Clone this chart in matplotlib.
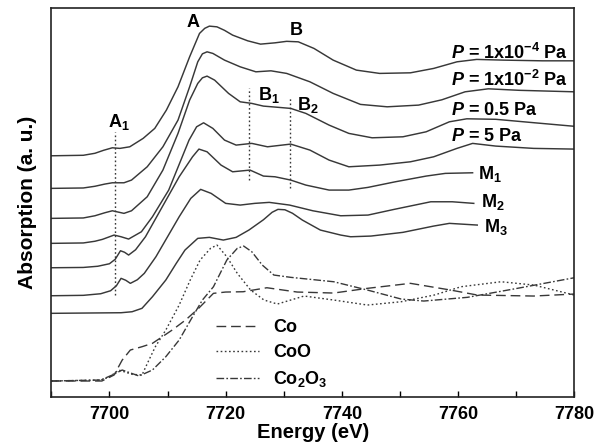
import numpy as np
import matplotlib
matplotlib.use("Agg")
import matplotlib.pyplot as plt
from matplotlib.ticker import MultipleLocator

plt.rcParams['font.family'] = ['Liberation Sans', 'DejaVu Sans']
plt.rcParams['font.weight'] = 'bold'
plt.rcParams['mathtext.fontset'] = 'custom'
plt.rcParams['mathtext.rm'] = 'Liberation Sans:bold'
plt.rcParams['mathtext.bf'] = 'Liberation Sans:bold'
plt.rcParams['mathtext.it'] = 'Liberation Sans:bold:italic'
plt.rcParams['mathtext.default'] = 'bf'

# stacked spectra (offset absorption, arbitrary units)
e_p4 = [7690, 7695.5, 7697.5, 7699, 7700.5, 7701.8, 7703.5, 7705.8, 7707.8, 7709.8, 7711.8, 7713.8,
        7715.5, 7716.4, 7717.2, 7718.5, 7719.8, 7721.2, 7723.8, 7726, 7728.5, 7730.5, 7732.5, 7735.2,
        7738.5, 7742.5, 7746.5, 7751.8, 7755.8, 7759.8, 7763.2, 7767.8, 7774.5, 7780]
a_p4 = [241, 241.5, 243.5, 246.5, 249, 248.4, 250, 258.4, 268.4, 286.7, 310, 340,
        363.4, 368.5, 370.7, 370, 366.5, 361.7, 356, 352.7, 354, 355.5, 355, 348.4,
        336.7, 326.7, 323.4, 324, 328.4, 335, 337.4, 336.7, 336, 336]

e_p2 = [7690, 7695.5, 7697.5, 7699.2, 7700.5, 7702.5, 7703.8, 7706.5, 7709.2, 7711.8, 7713.8,
        7715.2, 7716.0, 7716.8, 7717.8, 7719.8, 7722.5, 7725.2, 7727.8, 7730.5, 7734.5, 7738.5,
        7743.2, 7747.8, 7753.2, 7757.2, 7761.2, 7765.2, 7770.5, 7780]
a_p2 = [208.4, 208.8, 210.5, 212.7, 214, 214, 216.7, 230, 250, 276.7, 310,
        335, 343, 345, 343.4, 336.7, 330, 325, 326, 323.4, 315, 303.4,
        292.4, 290, 291.7, 297, 305, 308, 306.5, 305]

e_p05 = [7690, 7695.5, 7697.5, 7699.2, 7700.5, 7702.5, 7703.8, 7706.5, 7709.2, 7711.8, 7713.8,
         7715.2, 7716.0, 7716.8, 7718.1, 7720.5, 7722.5, 7724.5, 7726.5, 7729.2, 7731.2, 7733.8,
         7737.8, 7741.2, 7745.2, 7750.5, 7754.5, 7758.5, 7761.5, 7766.5, 7773.2, 7780]
a_p05 = [178.4, 178.8, 181, 184, 186, 183.4, 186, 200, 226.7, 263.4, 296.7,
         313.4, 319, 320.7, 316.7, 303.4, 295, 293.4, 290.7, 289.4, 288.4, 283.4,
         271.7, 263.4, 259, 260, 265, 275, 278, 277.5, 274, 270.5]

e_p5 = [7690, 7695.5, 7697.5, 7698.8, 7700.8, 7702.0, 7703.3, 7705.5, 7707.4, 7710.2, 7713.7,
        7715.0, 7716.2, 7717.8, 7719.8, 7721.8, 7724.5, 7727.2, 7731.2, 7734.5, 7737.8, 7741.2,
        7746.5, 7751.8, 7755.8, 7759.8, 7762.5, 7766.5, 7773, 7780]
a_p5 = [153.4, 153.8, 155.5, 157.4, 161.7, 160, 157.7, 165, 180, 206.7, 256.7,
        270, 274, 268.4, 256.7, 251.7, 253.4, 250, 252.7, 246.7, 236.7, 230,
        231.7, 235, 240, 248.4, 253.4, 250.7, 248.4, 247.7]

e_m1 = [7690, 7695.5, 7698.0, 7700.0, 7701.0, 7701.9, 7702.6, 7703.3, 7704.5, 7706.2, 7709.1,
        7712.0, 7714.3, 7715.4, 7716.8, 7719.2, 7721.2, 7724.2, 7726.5, 7728.5, 7731.2, 7733.8,
        7737.8, 7741.2, 7744.5, 7749.2, 7754.5, 7757.8, 7762.5]
a_m1 = [129, 129.3, 130.5, 133, 137.5, 146, 144.5, 141.7, 147, 160, 190,
        220, 240, 247.7, 245, 231.7, 225, 226.7, 220.7, 220, 216.7, 211.7,
        206.7, 206.7, 209.4, 215, 220.7, 223.4, 224]

e_m2 = [7690, 7695.5, 7698.5, 7700.2, 7701.2, 7702.0, 7702.8, 7703.6, 7704.8, 7706.0, 7708.0,
        7710.0, 7712.0, 7714.0, 7715.7, 7717.5, 7720.0, 7722.5, 7725.0, 7727.5, 7731.0, 7735.0,
        7739.8, 7744.5, 7749.0, 7755.3, 7759.0, 7762.7]
a_m2 = [101, 101.4, 103, 106, 111, 118.4, 116.5, 113.4, 117, 123.4, 140,
        160, 180, 198.4, 207.4, 203.4, 193.4, 191.7, 193.4, 194.4, 191.7, 186,
        181, 181.7, 187.4, 195, 195, 193.4]

e_m3 = [7690, 7702.0, 7703.9, 7705.6, 7707.4, 7709.7, 7711.5, 7713.0, 7715.2, 7717.2, 7719.6,
        7721.8, 7724.0, 7726.5, 7728.0, 7729.0, 7730.2, 7731.5, 7733.2, 7736.3, 7739.8, 7741.5,
        7745.0, 7750.5, 7755.8, 7758.5, 7763.3]
a_m3 = [83.4, 84, 85, 88.4, 100, 116.7, 133.4, 146.7, 158.4, 159.4, 156.7,
        159.4, 166.7, 177, 184.5, 187.4, 187, 183.5, 176.7, 166.7, 161.7, 160,
        160.7, 164.4, 170.7, 173.4, 171.7]

# reference spectra
e_co = [7690, 7698.7, 7700.8, 7702.2, 7703.6, 7705.6, 7707.4, 7709.1, 7710.8, 7713.1, 7715.4,
        7717.9, 7720, 7723, 7727.1, 7732.3, 7738.6, 7744.4, 7751.8, 7758.7, 7763.3, 7773, 7780]
a_co = [15.7, 15.7, 21.7, 36.7, 46.7, 50, 53.4, 60, 66.7, 76.7, 88.7,
        103.4, 104.7, 105, 109, 104.7, 103.7, 108.4, 113.4, 106.7, 101.7, 100.7, 102.7]

e_coo = [7690, 7698.5, 7700, 7701.6, 7703.9, 7705.6, 7706.8, 7707.9, 7709.7, 7712, 7713.9,
         7715.6, 7717.4, 7718.5, 7720.2, 7722, 7724.3, 7726.6, 7728.9, 7731.2, 7733.5, 7738.6,
         7744.4, 7750.2, 7755.9, 7760.5, 7767.4, 7773, 7780]
a_coo = [15.7, 16.7, 19.7, 26.7, 22.4, 21.7, 36.7, 50, 66.7, 91.7, 116.7,
         136.7, 148.4, 151.7, 140, 123.4, 106.7, 96.7, 92.7, 96.7, 100.7, 96.7,
         91.7, 95, 101.7, 110, 115, 111.7, 101.7]

e_co2o3 = [7690, 7698.5, 7700.5, 7702.2, 7705.1, 7707.4, 7709.7, 7712, 7714.3, 7716, 7717.9,
           7720.2, 7722, 7723.1, 7724.5, 7726.3, 7728.3, 7731.2, 7738.6, 7744.4, 7750.2, 7754.1,
           7761.6, 7770.2, 7780]
a_co2o3 = [15.7, 16.7, 21.7, 26.7, 20.7, 26.7, 40, 56.7, 80, 96.7, 110,
           136.7, 148.4, 150.7, 145, 131.7, 121.7, 119.4, 115, 106.7, 97.7, 95.7,
           99.4, 108.4, 119]

# feature markers (dotted lines): energy, bottom, top
mark_e = [7701, 7724.1, 7731]
mark_lo = [101.7, 216.7, 208.4]
mark_hi = [265, 308.4, 300]

sample_labels = [r"$\mathit{P}$ = 1x10$^{-4}$ Pa", r"$\mathit{P}$ = 1x10$^{-2}$ Pa",
                 r"$\mathit{P}$ = 0.5 Pa", r"$\mathit{P}$ = 5 Pa",
                 "M$_1$", "M$_2$", "M$_3$"]
label_e = [7758.7, 7758.7, 7758.7, 7758.7, 7763.4, 7763.9, 7764.4]
label_y = [337.4, 311, 281.7, 256, 217.4, 189.4, 164.4]

LINE = '#383838'

fig = plt.figure(figsize=(6.06, 4.48), dpi=100)
ax = fig.add_axes([0.0847, 0.1145, 0.863, 0.868])

for e, a in [(e_p4, a_p4), (e_p2, a_p2), (e_p05, a_p05), (e_p5, a_p5),
             (e_m1, a_m1), (e_m2, a_m2), (e_m3, a_m3)]:
    ax.plot(e, a, color=LINE, lw=1.05, solid_joinstyle='round')

h_co, = ax.plot(e_co, a_co, color=LINE, lw=1.0, dashes=(7, 3.5))
h_coo, = ax.plot(e_coo, a_coo, color=LINE, lw=1.0, dashes=(1.2, 1.8))
h_co2o3, = ax.plot(e_co2o3, a_co2o3, color=LINE, lw=1.0, dashes=(5.5, 1.6, 1.2, 1.6))

for e, lo, hi in zip(mark_e, mark_lo, mark_hi):
    ax.plot([e, e], [lo, hi], color=LINE, lw=1.0, dashes=(1.2, 1.8))

for lab, x, y in zip(sample_labels, label_e, label_y):
    ax.text(x, y, lab, fontsize=13, ha='left', va='baseline')

ax.text(7714.4, 370, "A", fontsize=13, ha='center', va='baseline')
ax.text(7732.2, 361.7, "B", fontsize=13, ha='center', va='baseline')
ax.text(7699.8, 269.7, "A$_1$", fontsize=13, ha='left', va='baseline')
ax.text(7725.5, 296.7, "B$_1$", fontsize=13, ha='left', va='baseline')
ax.text(7732.3, 286.7, "B$_2$", fontsize=13, ha='left', va='baseline')

ax.legend([h_co, h_coo, h_co2o3], ["Co", "CoO", "Co$_2$O$_3$"],
          loc='upper left', bbox_to_anchor=(0.314, 0.2), frameon=False,
          fontsize=13, borderpad=0, borderaxespad=0, handlelength=2.4,
          handletextpad=0.8, labelspacing=0.45)

ax.set_xlim(7690, 7780)
ax.set_ylim(0, 389)
ax.xaxis.set_major_locator(MultipleLocator(20))
ax.xaxis.set_minor_locator(MultipleLocator(10))
ax.tick_params(axis='x', which='both', direction='in', labelsize=13, pad=7)
ax.tick_params(axis='x', which='major', length=4, width=1)
ax.tick_params(axis='x', which='minor', length=4, width=1)
ax.set_yticks([])
for s in ax.spines.values():
    s.set_linewidth(1.2)
    s.set_color('#222222')

ax.set_xlabel("Energy (eV)", fontsize=14.5, fontweight='bold', labelpad=0)
ax.set_ylabel("Absorption (a. u.)", fontsize=15, fontweight='bold', labelpad=10)

fig.savefig("out.png", dpi=100)
